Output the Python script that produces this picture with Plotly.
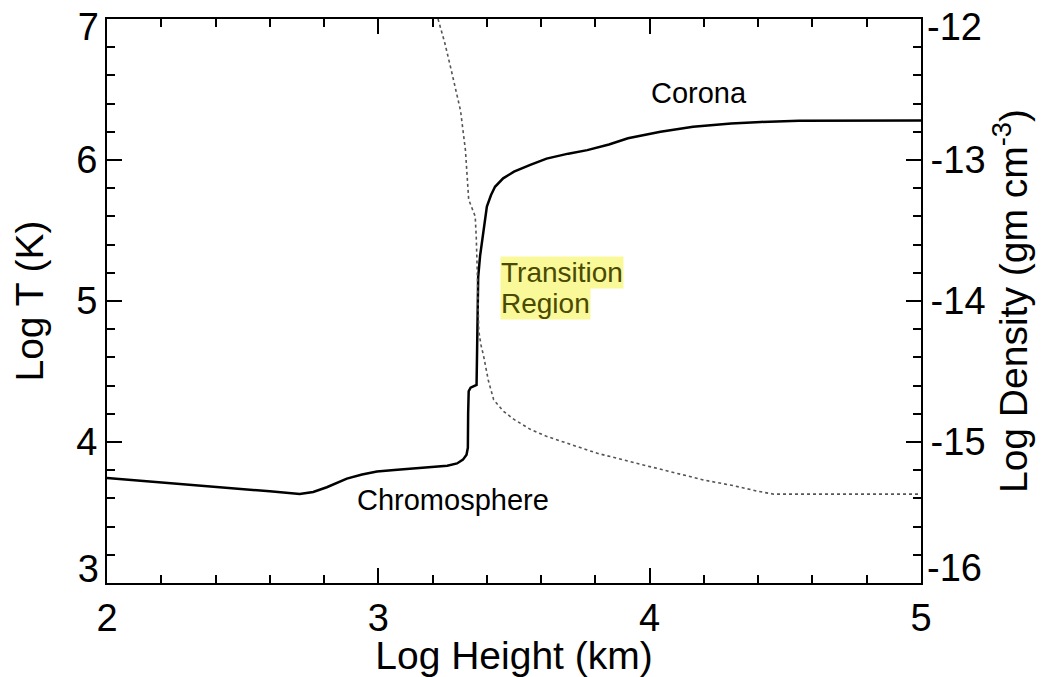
import plotly.graph_objects as go

# Temperature profile (solid line, left axis)
height_T = [2.00, 2.20, 2.40, 2.60, 2.71, 2.76, 2.81, 2.85, 2.884, 2.94, 2.995, 3.07,
            3.143, 3.20, 3.254, 3.29, 3.312, 3.325, 3.330, 3.331, 3.333, 3.340, 3.352,
            3.362, 3.364, 3.366, 3.368, 3.375, 3.382, 3.392, 3.40, 3.415, 3.43, 3.46,
            3.50, 3.56, 3.62, 3.70, 3.77, 3.85, 3.92, 4.04, 4.16, 4.30, 4.41, 4.55,
            4.70, 5.00]
log_T = [3.745, 3.715, 3.685, 3.650, 3.631, 3.645, 3.679, 3.715, 3.740, 3.770, 3.790,
         3.803, 3.813, 3.822, 3.832, 3.848, 3.875, 3.910, 3.960, 4.200, 4.360, 4.385,
         4.395, 4.405, 4.650, 4.950, 5.170, 5.320, 5.410, 5.560, 5.670, 5.750, 5.810,
         5.870, 5.917, 5.965, 6.010, 6.045, 6.070, 6.110, 6.154, 6.200, 6.236, 6.258,
         6.270, 6.278, 6.280, 6.280]

# Density profile (dotted line, right axis)
height_rho = [3.22, 3.245, 3.266, 3.285, 3.303, 3.321, 3.333, 3.345, 3.357, 3.361,
              3.364, 3.367, 3.370, 3.378, 3.388, 3.405, 3.425, 3.46, 3.50, 3.56, 3.62,
              3.71, 3.807, 3.95, 4.09, 4.20, 4.31, 4.40, 4.458, 4.70, 5.00]
log_rho = [-12.00, -12.17, -12.34, -12.50, -12.65, -12.93, -13.28, -13.34, -13.40,
           -13.55, -13.71, -13.95, -14.21, -14.31, -14.39, -14.56, -14.70, -14.78,
           -14.84, -14.91, -14.96, -15.02, -15.08, -15.15, -15.22, -15.27, -15.31,
           -15.35, -15.37, -15.37, -15.37]

x_ticks = [2, 3, 4, 5]
x_ticktext = ["2", "3", "4", "5"]
yT_ticks = [3, 4, 5, 6, 7]
yT_ticktext = ["3", "4", "5", "6", "7"]
yrho_ticks = [-16, -15, -14, -13, -12]
yrho_ticktext = ["-16", "-15", "-14", "-13", "-12"]

FONT = "Liberation Sans, Arial, Helvetica, sans-serif"

fig = go.Figure()
fig.add_trace(go.Scatter(x=height_T, y=log_T, mode="lines",
                         line=dict(color="black", width=2.5),
                         name="Log T", showlegend=False, xaxis="x", yaxis="y"))
fig.add_trace(go.Scatter(x=height_rho, y=log_rho, mode="lines",
                         line=dict(color="#555555", width=1.6, dash="dot"),
                         name="Log Density", showlegend=False, xaxis="x2", yaxis="y2"))
# empty traces so that the label-only overlay axes get drawn
for ax in ("y3", "y4", "y5", "y6"):
    fig.add_trace(go.Scatter(x=[], y=[], mode="lines", showlegend=False,
                             hoverinfo="skip", xaxis="x", yaxis=ax))

minor = dict(ticks="inside", ticklen=8, tickwidth=2, tickcolor="black", dtick=0.2, showgrid=False)
tick_font = dict(family=FONT, size=38, color="black")
tick_common = dict(ticks="inside", ticklen=15, tickwidth=2, tickcolor="black",
                   showline=True, linecolor="black", linewidth=2,
                   showgrid=False, zeroline=False, ticklabeloverflow="allow",
                   tickfont=tick_font)


def end_labels(rng, vals, texts, side, shift, standoff):
    """Label-only overlay axis: the end tick labels sit just inside the frame."""
    return dict(range=rng, tickvals=vals, ticktext=texts, overlaying="y", side=side,
                anchor="x", ticks="", showline=False, showgrid=False, zeroline=False,
                ticklabelshift=shift, ticklabelstandoff=standoff,
                ticklabeloverflow="allow", tickfont=tick_font)


# middle labels on the main axes; the two end labels on shifted overlay axes
mid_T = ["" if v in (yT_ticks[0], yT_ticks[-1]) else t for v, t in zip(yT_ticks, yT_ticktext)]
mid_rho = ["" if v in (yrho_ticks[0], yrho_ticks[-1]) else t for v, t in zip(yrho_ticks, yrho_ticktext)]

fig.update_layout(
    width=1036, height=669,
    margin=dict(l=99, r=123, t=11, b=94, autoexpand=False),
    paper_bgcolor="white", plot_bgcolor="white",
    font=dict(family=FONT, color="black"),
    xaxis=dict(range=[2, 5], tickvals=x_ticks, ticktext=x_ticktext, minor=minor,
               title=dict(text="Log Height (km)", font=dict(family=FONT, size=39), standoff=0),
               **tick_common),
    xaxis2=dict(range=[2, 5], tickvals=x_ticks, overlaying="x", side="top",
                showticklabels=False, minor=minor, **tick_common),
    yaxis=dict(range=[3, 7], tickvals=yT_ticks, ticktext=mid_T, minor=minor,
               title=dict(text="Log T (K)", font=dict(family=FONT, size=39), standoff=21),
               **tick_common),
    yaxis2=dict(range=[-16, -12], tickvals=yrho_ticks, ticktext=mid_rho,
                overlaying="y", side="right", anchor="x", minor=minor,
                title=dict(text="Log Density (gm cm<sup>-3</sup>)", font=dict(family=FONT, size=39), standoff=10),
                **tick_common),
    yaxis3=end_labels([3, 7], [yT_ticks[-1]], [yT_ticktext[-1]], "left", 8, 7),
    yaxis4=end_labels([3, 7], [yT_ticks[0]], [yT_ticktext[0]], "left", -14, 7),
    yaxis5=end_labels([-16, -12], [yrho_ticks[-1]], [yrho_ticktext[-1]], "right", 8, 5),
    yaxis6=end_labels([-16, -12], [yrho_ticks[0]], [yrho_ticktext[0]], "right", -15, 5),
    annotations=[
        dict(x=4.18, y=6.475, xref="x", yref="y", text="Corona", showarrow=False,
             font=dict(family=FONT, size=29, color="black")),
        dict(x=3.277, y=3.59, xref="x", yref="y", text="Chromosphere", showarrow=False,
             font=dict(family=FONT, size=29, color="black")),
        dict(x=3.45, y=5.20, xref="x", yref="y", text="Transition", showarrow=False,
             xanchor="left", bgcolor="#f9f99a", borderpad=0,
             font=dict(family=FONT, size=28, color="#4a4a00")),
        dict(x=3.45, y=4.98, xref="x", yref="y", text="Region", showarrow=False,
             xanchor="left", bgcolor="#f9f99a", borderpad=0,
             font=dict(family=FONT, size=28, color="#4a4a00")),
    ],
)

fig.write_html("out.html")
